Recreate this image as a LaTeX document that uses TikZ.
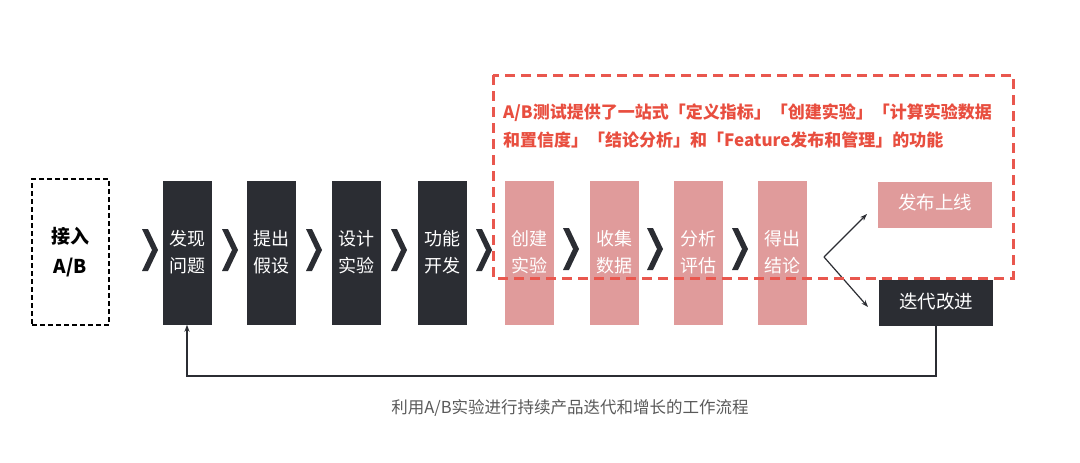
\documentclass[tikz,border=0pt]{standalone}
\usepackage{fontspec}
\setmainfont{Noto Sans CJK SC}
\usetikzlibrary{calc,arrows.meta}
\definecolor{darkbox}{HTML}{2B2D33}
\definecolor{pinkbox}{HTML}{E09B9B}
\definecolor{redline}{HTML}{E9574E}
\definecolor{redtext}{HTML}{E84E3F}
\definecolor{captiongray}{HTML}{595959}
\newcommand\steptext[1]{\raisebox{7pt}{\parbox{45pt}{\centering #1}}}
\begin{document}
\begin{tikzpicture}[x=1pt,y=-1pt,
  stepbox/.style={rectangle, minimum width=49pt, minimum height=144pt, inner sep=0pt,
    align=center, text=white, font=\fontsize{18}{27}\selectfont},
  darkstep/.style={stepbox, fill=darkbox},
  pinkstep/.style={stepbox, fill=pinkbox},
  widebox/.style={rectangle, minimum width=114pt, minimum height=46pt, inner sep=0pt,
    text=white, font=\fontsize{18.5}{22}\selectfont},
  chevron/.pic={\fill[darkbox] (-8,-21) -- (-2,-21) -- (8,0) -- (-2,21) -- (-8,21) -- (2,0) -- cycle;},
  flow/.style={draw=darkbox, line width=1.2pt, -{Stealth[length=7pt,width=5pt]}},
]
\useasboundingbox (0,0) rectangle (1080,463);

% start box
\node[rectangle, draw=black, line width=1.6pt, dash pattern=on 5pt off 3pt,
  minimum width=77pt, minimum height=146pt, inner sep=0pt, align=center,
  font=\bfseries\fontsize{19}{30}\selectfont] (start) at (70.5,252) {接入\\A/B};

% dark steps
\node[darkstep] (d1) at (187,252.5) {\steptext{发现\\问题}};
\node[darkstep] (d2) at (271.5,252.5) {\steptext{提出\\假设}};
\node[darkstep] (d3) at (356,252.5) {\steptext{设计\\实验}};
\node[darkstep] (d4) at (442,252.5) {\steptext{功能\\开发}};

% pink steps
\node[pinkstep] (p1) at (529.5,252.5) {\steptext{创建\\实验}};
\node[pinkstep] (p2) at (614.5,252.5) {\steptext{收集\\数据}};
\node[pinkstep] (p3) at (698.5,252.5) {\steptext{分析\\评估}};
\node[pinkstep] (p4) at (782.5,252.5) {\steptext{得出\\结论}};

% outcome boxes
\node[widebox, fill=pinkbox] (release) at (935,205) {\raisebox{7pt}{发布上线}};
\node[widebox, fill=darkbox] (iterate) at (936,303) {\raisebox{5pt}{迭代改进}};

% chevrons
\pic at (150,250) {chevron};
\pic at (230,250) {chevron};
\pic at (314,250) {chevron};
\pic at (399,250) {chevron};
\pic at (484,250) {chevron};
\pic at (571,249) {chevron};
\pic at (655,249) {chevron};
\pic at (740,249) {chevron};

% split arrows
\coordinate (fork) at (824,257);
\coordinate (upend) at (867,214);
\coordinate (downend) at (868,307);
\draw[flow] (fork) -- (upend);
\draw[flow] (fork) -- (downend);

% red dashed frame
\draw[redline, line width=3pt, dash pattern=on 10pt off 6pt] (493,75) rectangle (1013,278);
\node[anchor=north west, inner sep=0pt, align=left, text=redtext,
  font=\bfseries\fontsize{17}{28}\selectfont] (note) at (503,103)
  {A/B测试提供了一站式「定义指标」「创建实验」「计算实验数据\\和置信度」「结论分析」和「Feature发布和管理」的功能};

% feedback loop
\coordinate (loopR) at (iterate.south |- 0,376);
\coordinate (loopL) at (d1.south |- 0,376);
\draw[flow] (iterate.south) -- (loopR) -- (loopL) -- (d1.south);

% caption
\node[text=captiongray, font=\fontsize{16.5}{20}\selectfont, inner sep=0pt] (caption) at (570,408)
  {利用A/B实验进行持续产品迭代和增长的工作流程};
\end{tikzpicture}
\end{document}
